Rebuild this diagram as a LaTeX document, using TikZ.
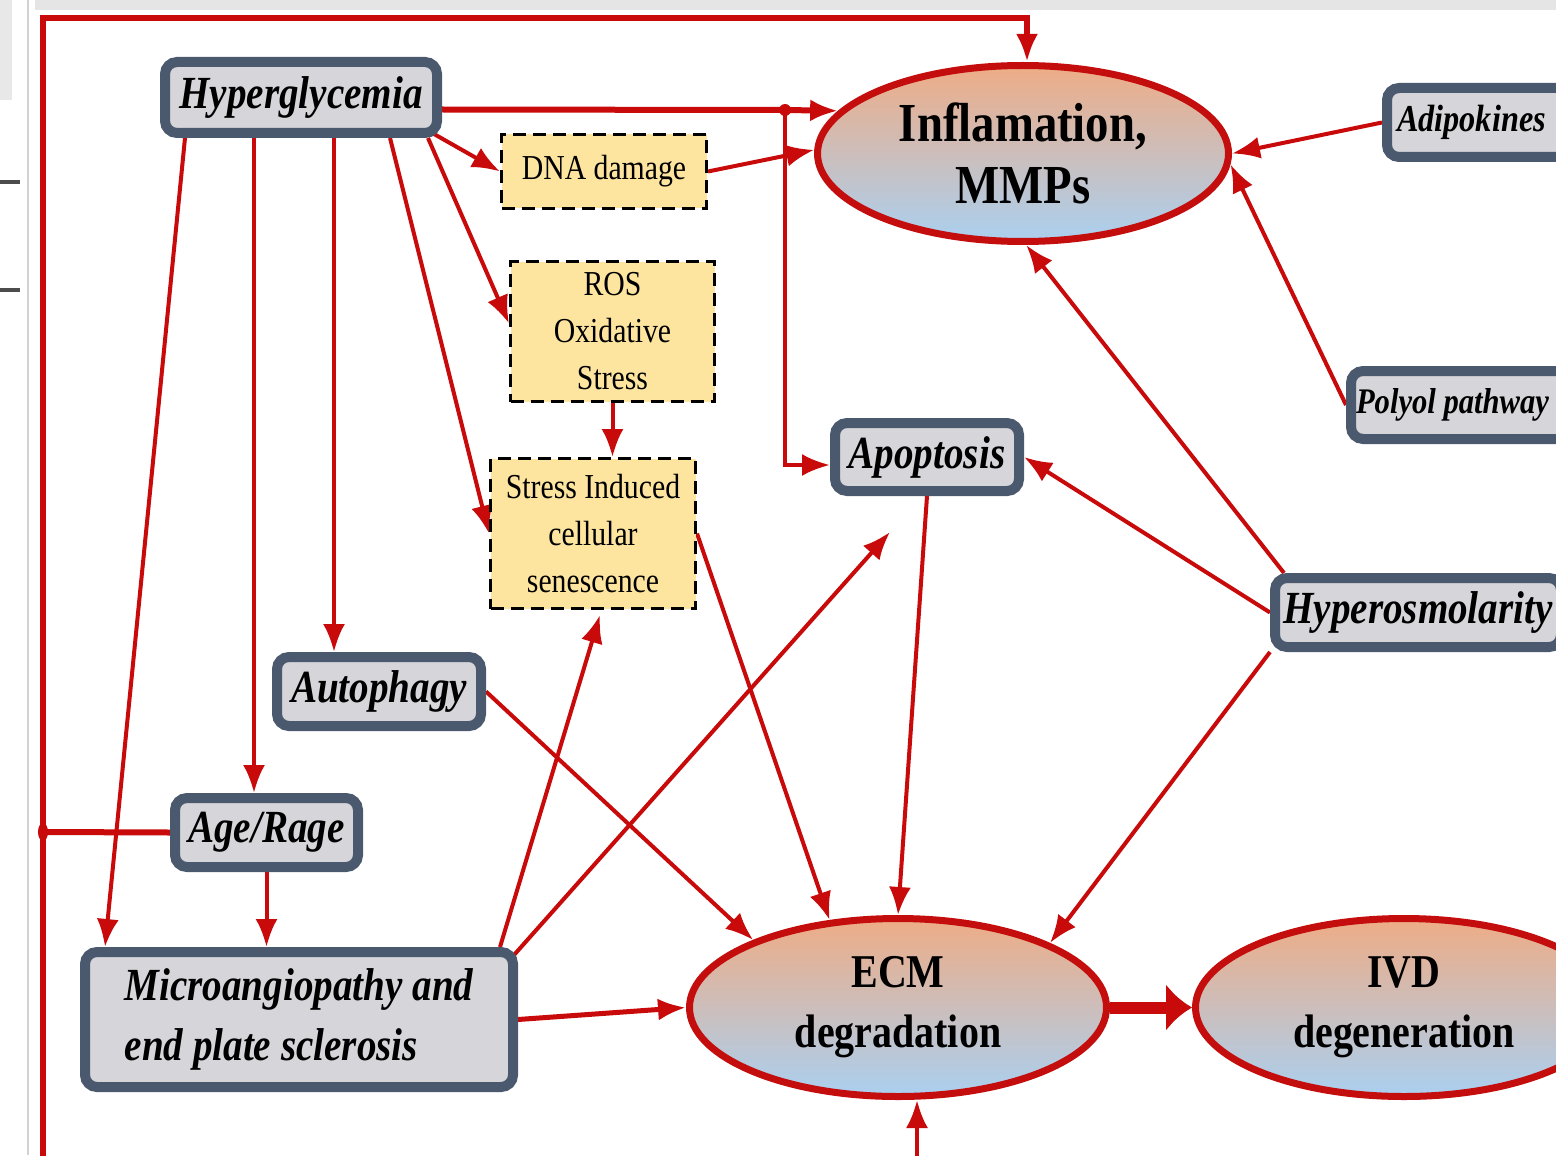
\documentclass[tikz,border=0pt]{standalone}
\usepackage{fontspec}
\setmainfont{Liberation Serif}[FakeStretch=0.85]
\usepackage{tikz}
\usetikzlibrary{arrows.meta,shapes.geometric,backgrounds}

\definecolor{arrowred}{RGB}{200,10,10}
\definecolor{ellred}{RGB}{196,14,14}
\definecolor{slate}{RGB}{74,89,110}
\definecolor{boxgrey}{RGB}{214,213,218}
\definecolor{dashyellow}{RGB}{253,229,160}
\definecolor{elltop}{RGB}{238,172,134}
\definecolor{ellbot}{RGB}{170,208,240}

\begin{document}
\begin{tikzpicture}[>/.tip={Latex[length=14pt,width=11pt]},
  x=0.5pt, y=-0.5pt,
  factor/.style={draw=slate, fill=boxgrey, line width=5pt, rounded corners=6pt,
    inner sep=0pt, font=\fontsize{23}{30}\selectfont\bfseries\itshape},
  stress/.style={draw=black, fill=dashyellow, line width=1.5pt,
    dash pattern=on 6.5pt off 3.5pt, inner sep=0pt, align=center,
    minimum width=102.5pt, font=\fontsize{17.5}{23.5}\selectfont},
  outcome/.style={ellipse, draw=ellred, line width=3.5pt, top color=elltop,
    bottom color=ellbot, inner sep=0pt, minimum width=208.5pt,
    minimum height=89pt, align=center, font=\fontsize{23.5}{30}\selectfont\bfseries},
  link/.style={draw=arrowred, line width=2pt},
  mainlink/.style={draw=arrowred, line width=3pt}]
\useasboundingbox (0,0) rectangle (1556,1155);
\clip (0,0) rectangle (1556,1155);

% factors
\draw (301,97.5)    node (hyp)   [factor, minimum width=136pt, minimum height=35.5pt] {Hyperglycemia};
\draw (379,691.5)   node (auto)  [factor, minimum width=102pt, minimum height=34.5pt] {Autophagy};
\draw (266.5,832.5) node (age)   [factor, minimum width=91.5pt, minimum height=34.5pt] {Age/Rage};
\draw (299,1019.5)  node (micro) [factor, align=left, minimum width=214pt, minimum height=67.5pt] {Microangiopathy and\\end plate sclerosis};
\draw (927,457)     node (apo)   [factor, minimum width=92pt, minimum height=34pt] {Apoptosis};
\draw (1382,122.5)  node (adip)  [factor, anchor=west, minimum height=34.5pt,
  font=\fontsize{19}{24}\selectfont\bfseries\itshape] {\kern5pt Adipokines\kern14pt};
\draw (1346,405)    node (pol)   [factor, anchor=west, minimum height=34pt,
  font=\fontsize{18}{24}\selectfont\bfseries\itshape] {\kern2.5pt Polyol pathway\kern14pt};
\draw (1418,612.5)  node (hos)   [factor, minimum width=143pt, minimum height=34.5pt] {Hyperosmolarity};

% cellular stress
\draw (604,171.5)   node (dna) [stress, minimum height=37pt] {DNA damage};
\draw (612.5,331.5) node (ros) [stress, minimum width=102pt, minimum height=70pt] {ROS\\Oxidative\\Stress};
\draw (593,533.5)   node (sen) [stress, minimum height=75pt] {Stress Induced\\cellular\\senescence};

% outcomes
\draw (1023,153.5)  node (infl) [outcome, minimum width=205.5pt, minimum height=88pt,
  font=\fontsize{27.5}{31}\selectfont\bfseries] {Inflamation,\\MMPs};
\draw (898,1007.5)  node (ecm) [outcome] {ECM\\degradation};
\draw (1404,1007.5) node (ivd) [outcome] {IVD\\degeneration};

\coordinate (hj) at (785,110);
\coordinate (aj) at (43,832);
\coordinate (fbl) at (43,1170);
\coordinate (ftl) at (43,18);
\coordinate (ftr) at (1027,18);
\coordinate (eb) at (917,1170);
\coordinate (apotip) at (890,532);
\coordinate (h1) at ([xshift=-58pt]hyp.south);
\coordinate (h2) at ([xshift=-23.5pt]hyp.south);
\coordinate (h3) at ([xshift=16.5pt]hyp.south);
\coordinate (h4) at ([xshift=44.5pt]hyp.south);
\coordinate (h5) at ([xshift=-7pt]hyp.south east);
\coordinate (h6) at ([xshift=-4pt,yshift=2pt]hyp.south east);

\begin{pgfonlayer}{background}
\fill[white] (0,0) rectangle (1556,1155);
\fill[gray!20] (35,0) rectangle (1556,10);
\fill[gray!18] (0,0) rectangle (12,100);
\draw[gray!35, line width=1pt] (28,0) -- (28,1155);
\draw[black!70, line width=2pt] (0,182) -- (20,182);
\draw[black!70, line width=2pt] (0,290) -- (20,290);

\draw[mainlink,->] (fbl) -- (ftl) -- (ftr) -- (ftr |- infl.north);
\draw[mainlink] (age.west) -- (aj);
\fill[arrowred] (aj) ellipse (2.5pt and 4.5pt);
\draw[link,->] (eb) -- (eb |- ecm.south);

\draw[mainlink] ([yshift=-6pt]hyp.east) -- (hj);
\draw[mainlink,->] (hj) -- (infl.167);
\fill[arrowred] (hj) circle (3pt);
\draw[link,->] (hj) |- ([yshift=-4pt]apo.west);

\draw[link,->] (h1) -- ([xshift=-97pt]micro.north);
\draw[link,->] (h2) -- (h2 |- age.north);
\draw[link,->] (h3) -- (h3 |- auto.north);
\draw[link,->] (h4) -- (sen.west);
\draw[link,->] (h5) -- ([yshift=4pt]ros.west);
\draw[link,->] (h6) -- (dna.west);
\draw[link,->] (dna.east) -- (infl.179);
\draw[link,->] (ros.south) -- (ros.south |- sen.north);
\draw[link,->] (sen.east) -- (ecm.128);
\draw[link,->] (auto.east) -- (ecm.155);
\draw[link,->] (age.south) -- (age.south |- micro.north);
\draw[link,->] ([xshift=-9pt]micro.north east) -- ([xshift=3.5pt,yshift=-2.5pt]sen.south);
\draw[link,->] ([xshift=-2pt,yshift=-4pt]micro.north east) -- (apotip);
\draw[link,line width=2.5pt,->] (micro.east) -- (ecm.west);
\draw[link,->] (apo.south) -- (ecm.north);
\draw[link,->] (hos.west) -- (apo.east);
\draw[link,->] ([xshift=7pt]hos.north west) -- (infl.-88);
\draw[link,->] (hos.south west) -- (ecm.23);
\draw[link,->] (adip.west) -- (infl.east);
\draw[link,->] (pol.west) -- (infl.-3);
\draw[draw=arrowred, line width=6pt, -{Latex[length=13pt,width=24pt]}] (ecm.east) -- (ivd.west);
\end{pgfonlayer}

\end{tikzpicture}
\end{document}
